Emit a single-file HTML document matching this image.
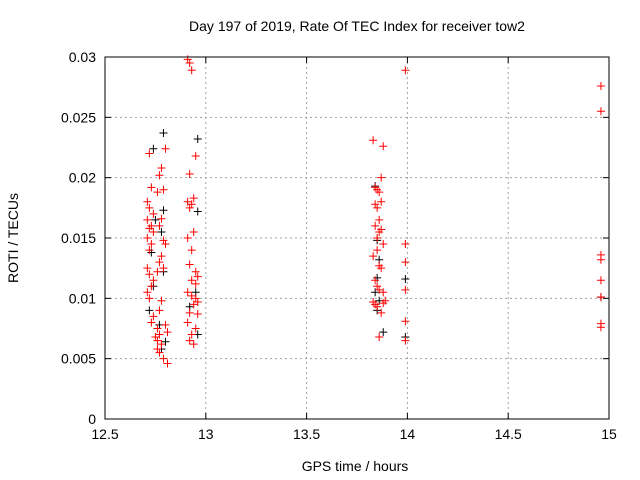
<!DOCTYPE html>
<html><head><meta charset="utf-8"><style>
body{margin:0;background:#fff}
svg{display:block;font-family:"Liberation Sans",sans-serif}
</style></head><body>
<svg id="chart" width="640" height="480" xmlns="http://www.w3.org/2000/svg">
<rect width="640" height="480" fill="#fff"/>
<text x="357" y="31" font-size="14" text-anchor="middle">Day 197 of 2019, Rate Of TEC Index for receiver tow2</text>
<text x="355" y="471" font-size="14" text-anchor="middle">GPS time / hours</text>
<text transform="translate(18,238) rotate(-90)" font-size="14" text-anchor="middle">ROTI / TECUs</text>
<g id="grid"></g>
<g id="ticks"></g>
<g id="black"></g>
<g id="red"></g>
<rect x="105" y="57" width="504" height="362" fill="none" stroke="#000" stroke-width="1"/>
</svg>
<script>
const xTicks=[12.5,13,13.5,14,14.5,15];
const xTickLabels=["12.5","13","13.5","14","14.5","15"];
const yTicks=[0,0.005,0.01,0.015,0.02,0.025,0.03];
const yTickLabels=["0","0.005","0.01","0.015","0.02","0.025","0.03"];
const blackX=[12.79,12.74,12.79,12.75,12.78,12.73,12.79,12.74,12.72,12.77,12.80,12.78,12.96,12.96,12.95,12.92,12.96,13.84,13.85,13.86,13.85,13.84,13.86,13.85,13.88,13.99,13.99,14.96];
const blackY=[0.0237,0.0224,0.0173,0.0165,0.0155,0.0138,0.0122,0.011,0.009,0.0078,0.0064,0.0058,0.0232,0.0172,0.0105,0.0093,0.007,0.0193,0.0148,0.0132,0.0117,0.0105,0.0098,0.009,0.0072,0.0116,0.0068,0.0101];
const redX=[12.72,12.73,12.71,12.72,12.74,12.71,12.73,12.72,12.74,12.71,12.73,12.72,12.71,12.72,12.74,12.73,12.71,12.72,12.74,12.73,12.76,12.77,12.76,12.78,12.77,12.79,12.76,12.78,12.77,12.79,12.80,12.78,12.77,12.76,12.79,12.78,12.80,12.81,12.75,12.76,12.77,12.79,12.81,12.80,12.78,12.77,
12.91,12.92,12.93,12.92,12.91,12.93,12.94,12.95,12.92,12.91,12.93,12.94,12.92,12.95,12.96,12.91,12.93,12.94,12.95,12.92,12.91,12.96,12.95,12.93,12.94,12.92,12.96,12.95,12.93,
13.83,13.84,13.85,13.86,13.87,13.84,13.85,13.86,13.88,13.87,13.84,13.86,13.85,13.87,13.88,13.83,13.85,13.86,13.87,13.84,13.85,13.86,13.88,13.83,13.84,13.85,13.89,13.88,13.87,13.86,
13.99,13.99,13.99,13.99,13.99,13.99,14.96,14.96,14.96,14.96,14.96,14.96,14.96,14.96];
const redY=[0.022,0.0192,0.018,0.0175,0.017,0.0165,0.016,0.0158,0.0155,0.015,0.0145,0.014,0.0125,0.012,0.0115,0.011,0.0105,0.010,0.0085,0.008,0.0075,0.007,0.0065,0.0208,0.0202,0.019,0.0188,0.0166,0.016,0.0148,0.0145,0.0135,0.013,0.0122,0.0125,0.0098,0.0078,0.0072,0.0068,0.0058,0.0055,0.005,0.0046,0.0224,0.0062,0.009,
0.0298,0.0295,0.0289,0.0203,0.018,0.0178,0.0183,0.0218,0.0175,0.0150,0.0140,0.0155,0.0128,0.0122,0.0118,0.0105,0.0102,0.0095,0.0100,0.0088,0.0080,0.0087,0.0075,0.0070,0.0062,0.0065,0.0097,0.0112,0.0115,
0.0231,0.0192,0.0190,0.0188,0.0180,0.0178,0.0175,0.0165,0.0226,0.0200,0.0160,0.0155,0.0150,0.0157,0.0145,0.0135,0.0140,0.0127,0.0125,0.0115,0.0110,0.0107,0.0105,0.0097,0.0095,0.0093,0.0098,0.0096,0.0088,0.0068,
0.0289,0.0145,0.013,0.0107,0.0081,0.0065,0.0276,0.0255,0.0136,0.0132,0.0115,0.0101,0.0079,0.0076];
const X0=105,X1=609,Y0=419,Y1=57;
const sx=v=>X0+(v-12.5)/2.5*(X1-X0);
const sy=v=>Y0-v/0.03*(Y0-Y1);
const NS="http://www.w3.org/2000/svg";
function mk(tag,attrs,parent){const e=document.createElementNS(NS,tag);for(const k in attrs)e.setAttribute(k,attrs[k]);parent.appendChild(e);return e;}
const grid=document.getElementById('grid'),ticks=document.getElementById('ticks');
xTicks.forEach((t,i)=>{const x=sx(t);
 if(i>0&&i<xTicks.length-1){const g=mk('line',{x1:x,x2:x,y1:Y0,y2:Y1,stroke:'#a0a0a0','stroke-dasharray':'2,3'},grid);
 
 }
 mk('line',{x1:x,x2:x,y1:Y0,y2:Y0-6,stroke:'#000'},ticks);mk('line',{x1:x,x2:x,y1:Y1,y2:Y1+6,stroke:'#000'},ticks);
 const tx=mk('text',{x:x,y:Y0+20,'font-size':14,'text-anchor':'middle'},ticks);tx.textContent=xTickLabels[i];
 
 });
yTicks.forEach((t,i)=>{const y=sy(t);
 if(i>0&&i<yTicks.length-1){const g=mk('line',{x1:X0,x2:X1,y1:y,y2:y,stroke:'#a0a0a0','stroke-dasharray':'2,3'},grid);
 
 }
 mk('line',{x1:X0,x2:X0+6,y1:y,y2:y,stroke:'#000'},ticks);mk('line',{x1:X1,x2:X1-6,y1:y,y2:y,stroke:'#000'},ticks);
 const tx=mk('text',{x:X0-9,y:y+5,'font-size':14,'text-anchor':'end'},ticks);tx.textContent=yTickLabels[i];
 
 });
function plot(xs,ys,col,gid,name){const g=document.getElementById(gid);
 xs.forEach((v,i)=>{const x=sx(v),y=sy(ys[i]);
  const p=mk('path',{d:`M${x-4},${y}H${x+4}M${x},${y-4}V${y+4}`,stroke:col,'stroke-width':1,fill:'none'},g);
  
  });}
plot(blackX,blackY,'#000','black','black-point');
plot(redX,redY,'#ff0000','red','red-point');
</script>
</body></html>
